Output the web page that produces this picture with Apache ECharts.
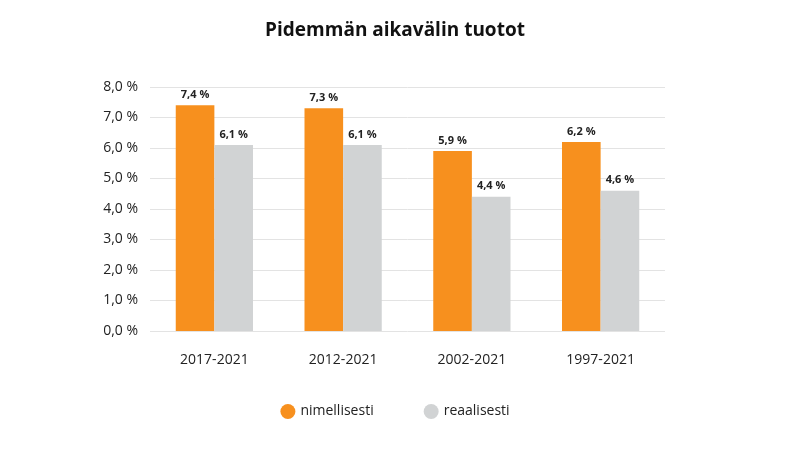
<!DOCTYPE html>
<html><head><meta charset="utf-8">
<script src="https://cdn.jsdelivr.net/npm/echarts@6/dist/echarts.min.js"></script>
<style>html,body{margin:0;padding:0;background:#fff}#c{width:790px;height:466px}</style>
</head><body><div id="c"></div>
<script>
const categories = ['2017-2021','2012-2021','2002-2021','1997-2021'];
const nominal = [7.4, 7.3, 5.9, 6.2];
const real = [6.1, 6.1, 4.4, 4.6];
const fmt = v => v.toFixed(1).replace('.', ',') + ' %';
const chart = echarts.init(document.getElementById('c'));
const lbl = {show:true, position:'top', formatter:p=>fmt(p.value), color:'#222', fontWeight:'bold', fontSize:11, fontFamily:'Open Sans', distance:5};
chart.setOption({
  animation:false,
  title:{text:'Pidemmän aikavälin tuotot', left:'center', top:16, textStyle:{fontFamily:'Open Sans', fontWeight:'bold', fontSize:19, color:'#111'}},
  legend:{bottom:42, left:'center', itemGap:50, icon:'circle', itemWidth:15, itemHeight:15, textStyle:{fontFamily:'Open Sans', fontSize:14, color:'#222'}},
  grid:{left:150, right:125, top:87, bottom:135},
  xAxis:{type:'category', data:categories, axisTick:{show:false}, axisLine:{show:false},
    axisLabel:{fontFamily:'Open Sans', fontSize:14, color:'#222', margin:22}},
  yAxis:{type:'value', min:0, max:8, interval:1, axisLabel:{formatter:v=>fmt(v), fontFamily:'Open Sans', fontSize:14, color:'#222', margin:12},
    splitLine:{lineStyle:{color:'#e3e3e3'}}},
  series:[
    {name:'nimellisesti', type:'bar', data:nominal, barWidth:'30%', barGap:'0%', itemStyle:{color:'#F7901E'}, label:lbl},
    {name:'reaalisesti', type:'bar', data:real, barWidth:'30%', itemStyle:{color:'#D1D3D4'}, label:lbl}
  ]
});
</script></body></html>
